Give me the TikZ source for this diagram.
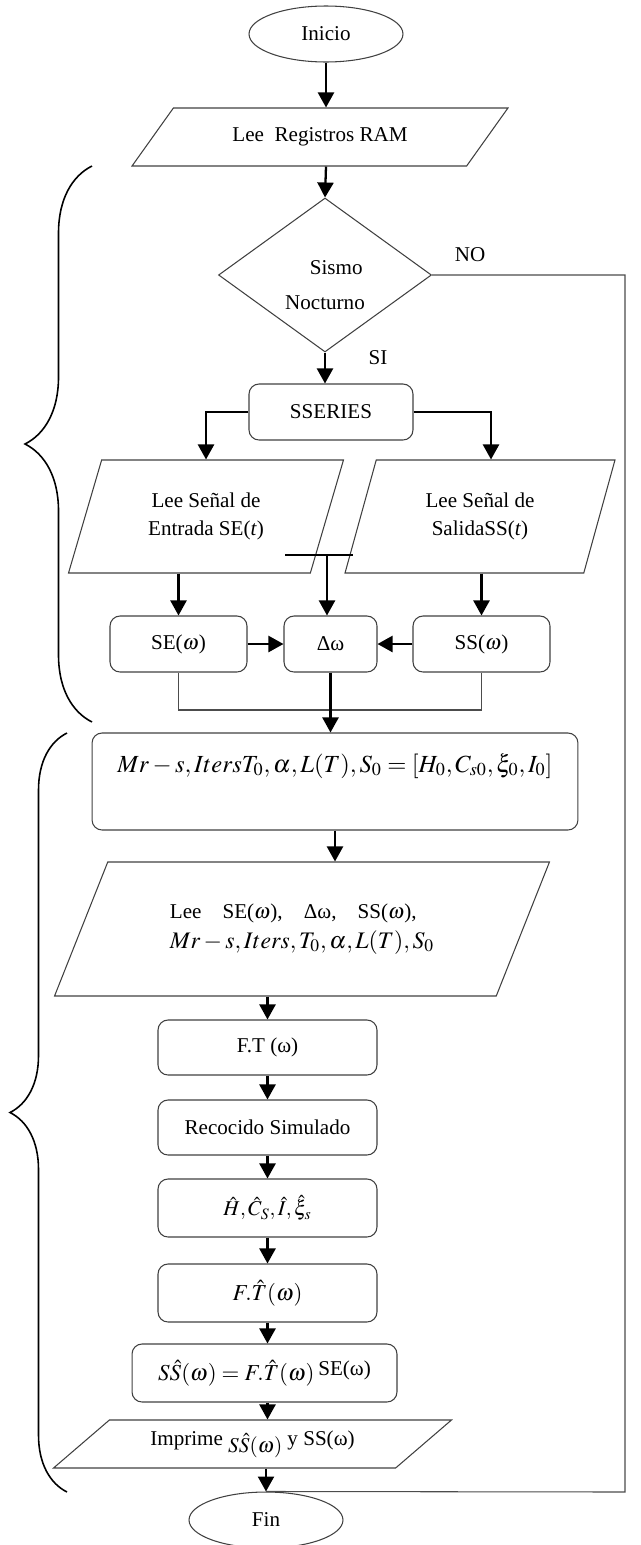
\documentclass[tikz,border=0pt]{standalone}
\usepackage{mathptmx}
\usepackage[no-math]{fontspec}
\setmainfont{Liberation Serif}
\usetikzlibrary{shapes.geometric,arrows.meta,decorations.pathreplacing}

\begin{document}
\begin{tikzpicture}[x=0.02cm,y=-0.02cm,
  font=\fontsize{12}{14}\selectfont,
  caja/.style={draw=black!75, rounded corners=0.2cm, line width=0.6pt, minimum height=1.12cm, inner sep=2pt},
  datos/.style={draw=black!75, trapezium, trapezium stretches body, line width=0.6pt, inner sep=2pt},
  extremo/.style={draw=black!75, ellipse, minimum width=3.08cm, minimum height=1.12cm, line width=0.6pt},
  flecha/.style={-{Triangle[length=0.3cm,width=0.32cm]}, line width=1.3pt},
  linea/.style={black!70, line width=0.6pt},
  llave/.style={decorate, line width=0.9pt}]

\useasboundingbox (0,0) rectangle (641,1545);

\node[extremo] (inicio) at (326,34) {Inicio};
\node[datos, trapezium left angle=31.7, trapezium right angle=148.3, minimum width=7.52cm, minimum height=1.16cm] (leeRAM) at (320,137) {Lee\ \ Registros RAM};
\node[draw=black!75, diamond, line width=0.6pt, minimum width=4.26cm, minimum height=3.08cm, inner sep=0pt, align=center, text height=1.38cm] (sismo) at (325,275) {\hspace*{0.45cm}Sismo\\[5.7pt]Nocturno};
\node (no) at (470,255) {NO};
\node (si) at (378,358) {SI};
\node[caja, minimum width=3.28cm] (sseries) at (331,412) {SSERIES};

\node[datos, trapezium left angle=58.6, trapezium right angle=121.4, minimum width=5.5cm, minimum height=2.26cm, align=center] (leeEnt) at (206,516.5) {Lee Señal de\\[2pt]Entrada SE(\textit{t})};
\node[datos, trapezium left angle=60.1, trapezium right angle=119.9, minimum width=5.4cm, minimum height=2.26cm, align=center] (leeSal) at (480,516.5) {Lee Señal de\\[2pt]SalidaSS(\textit{t})};

\node[caja, minimum width=2.74cm] (seW) at (178.5,644) {SE($\omega$)};
\node[caja, minimum width=1.86cm] (dW) at (330.5,644) {Δω};
\node[caja, minimum width=2.74cm] (ssW) at (481.5,644) {SS($\omega$)};

\coordinate (barIzq) at (285,555);
\coordinate (barDer) at (353,555);
\coordinate (barMed) at (327,555);
\coordinate (union) at (327,710);

\node[caja, minimum width=9.72cm, text height=0.68cm, text depth=1.06cm, inner sep=0.1cm] (mrBox) at (335,781.5) {\fontsize{14}{16}\selectfont $Mr-s, Iters T_0, \alpha, L(T), S_0 = [H_0, C_{s0}, \xi_0, I_0]$};
\node[datos, trapezium left angle=47.2, trapezium right angle=132.8, minimum width=9.9cm, minimum height=2.68cm, align=left] (leeTodo) at (302,929) {Lee\quad SE($\omega$),\quad Δω,\quad SS($\omega$),\\[3pt]{\fontsize{13.5}{15}\selectfont $Mr-s, Iters, T_0, \alpha, L(T), S_0$}};

\node[caja, minimum width=4.38cm, minimum height=1.1cm] (ftW) at (267.5,1047.5) {F.T (ω)};
\node[caja, minimum width=4.38cm, minimum height=1.1cm] (reco) at (267.5,1127.5) {Recocido Simulado};
\node[caja, minimum width=4.38cm, minimum height=1.16cm] (hatV) at (267.5,1208) {$\hat{H}, \hat{C}_S, \hat{I}, \hat{\xi}_s$};
\node[caja, minimum width=4.38cm, minimum height=1.16cm] (ftHat) at (267.5,1293) {\fontsize{13}{15}\selectfont $F.\hat{T}(\omega)$};
\node[caja, minimum width=5.3cm, minimum height=1.16cm] (ssHat) at (264.5,1373) {\fontsize{13}{15}\selectfont $S\hat{S}(\omega) = F.\hat{T}(\omega)$\,\fontsize{12}{14}\selectfont\raisebox{3pt}{SE(ω)}};
\node[datos, trapezium left angle=31.3, trapezium right angle=148.7, minimum width=7.96cm, minimum height=0.96cm] (impr) at (252.5,1444) {Imprime \raisebox{-4pt}{$S\hat{S}(\omega)$} y SS(ω)};
\node[extremo] (fin) at (266,1520) {Fin};

\coordinate (esquina) at (625,1492);

\draw[flecha] (inicio.south) -- (inicio.south |- leeRAM.north);
\draw[flecha] (inicio.south |- leeRAM.south) -- (sismo.north);
\draw[flecha] (sismo.south) -- (sismo.south |- sseries.north);
\draw[flecha] (sseries.west) -| (leeEnt.north);
\draw[flecha] (sseries.east) -| ([xshift=0.22cm]leeSal.north);
\draw[line width=1.3pt] (barIzq) -- (barDer);
\draw[flecha] (barMed) -- (barMed |- dW.north);
\draw[flecha] (seW.north |- leeEnt.south) -- (seW.north);
\draw[flecha] (ssW.north |- leeSal.south) -- (ssW.north);
\draw[flecha] (seW) -- (dW);
\draw[flecha] (ssW) -- (dW);
\draw[linea] (seW.south) |- (union) -| (ssW.south);
\draw[flecha] (dW.south) -- (dW.south |- mrBox.north);
\draw[flecha] (mrBox.south) -- (mrBox.south |- leeTodo.north);
\draw[flecha] (ftW.north |- leeTodo.south) -- (ftW.north);
\draw[flecha] (ftW) -- (reco);
\draw[flecha] (reco) -- (hatV);
\draw[flecha] (hatV) -- (ftHat);
\draw[flecha] (ftHat.south) -- (ftHat.south |- ssHat.north);
\draw[flecha] (ftHat.south |- ssHat.south) -- (ftHat.south |- impr.north);
\draw[flecha] (fin.north |- impr.south) -- (fin.north);
\draw[linea] (sismo.east) -| (esquina) -- (fin.north);

\draw[llave, decoration={brace, amplitude=1.34cm}] (92,722) -- (92,166);
\draw[llave, decoration={brace, amplitude=1.14cm}] (67,1492) -- (67,733);
\end{tikzpicture}
\end{document}
